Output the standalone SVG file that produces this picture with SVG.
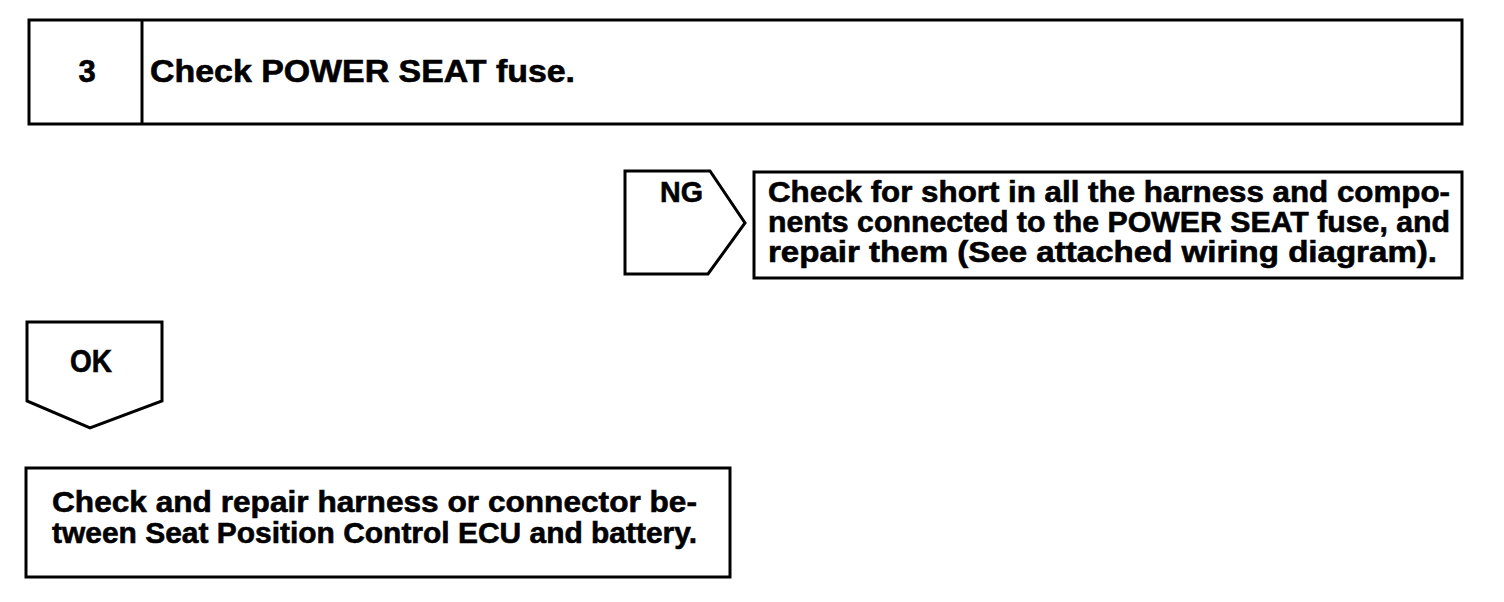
<svg xmlns="http://www.w3.org/2000/svg" width="1504" height="602" viewBox="0 0 1504 602">
<style>
.box{fill:#fff;stroke:#000;stroke-width:3;stroke-linejoin:miter}
.t{font-family:"Liberation Sans",Arial,Helvetica,sans-serif;font-weight:bold;fill:#000;stroke:#000;stroke-width:0.6}
</style>
<rect width="1504" height="602" fill="#fff"/>
<g id="step3">
<rect class="box" x="29" y="20" width="1433" height="104"/>
<line x1="142" y1="20" x2="142" y2="124" stroke="#000" stroke-width="3"/>
<text class="t" x="87" y="82" font-size="31" text-anchor="middle">3</text>
<text class="t" x="150" y="82" font-size="31" textLength="425" lengthAdjust="spacingAndGlyphs">Check POWER SEAT fuse.</text>
</g>
<g id="connectors">
<g id="ng-tag">
<polygon class="box" points="625,171 710,171 745,223 708,274 625,274"/>
<text class="t" x="660" y="202" font-size="30" textLength="43" lengthAdjust="spacingAndGlyphs">NG</text>
</g>
<g id="ok-tag">
<polygon class="box" points="27,322 162,322 162,401 90,428 27,401"/>
<text class="t" x="70" y="372" font-size="31" textLength="42" lengthAdjust="spacingAndGlyphs">OK</text>
</g>
</g>
<g id="ng-action">
<rect class="box" x="754" y="172" width="708" height="106"/>
<text class="t" x="768" y="202" font-size="29" textLength="682" lengthAdjust="spacingAndGlyphs">Check for short in all the harness and compo-</text>
<text class="t" x="768" y="232" font-size="29" textLength="682" lengthAdjust="spacingAndGlyphs">nents connected to the POWER SEAT fuse, and</text>
<text class="t" x="768" y="262" font-size="29" textLength="669" lengthAdjust="spacingAndGlyphs">repair them (See attached wiring diagram).</text>
</g>
<g id="ok-action">
<rect class="box" x="26" y="468" width="704" height="109"/>
<text class="t" x="52" y="512" font-size="30" textLength="645" lengthAdjust="spacingAndGlyphs">Check and repair harness or connector be-</text>
<text class="t" x="52" y="543" font-size="30" textLength="645" lengthAdjust="spacingAndGlyphs">tween Seat Position Control ECU and battery.</text>
</g>
</svg>
